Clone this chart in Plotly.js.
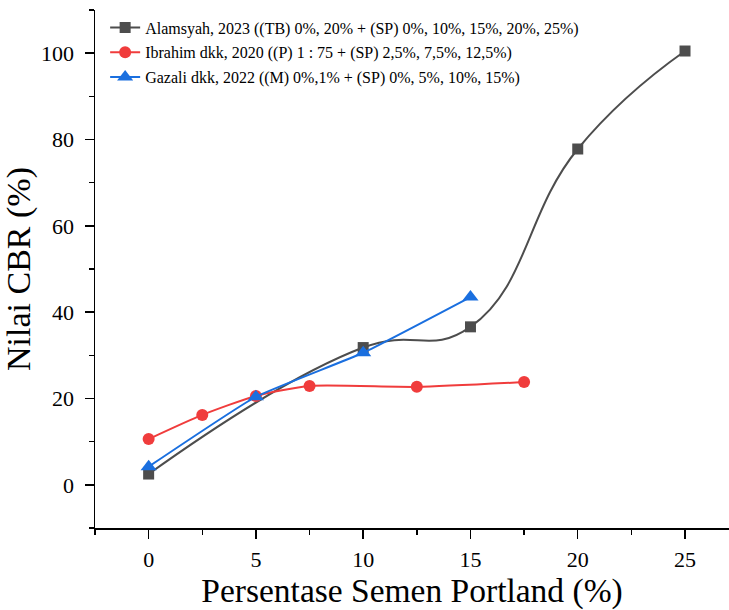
<!DOCTYPE html>
<html>
<head>
<meta charset="utf-8">
<script src="https://cdn.plot.ly/plotly-3.0.1.min.js"></script>
<style>html,body{margin:0;padding:0;background:#fff;}#chart{width:729px;height:610px;}</style>
</head>
<body>
<div id="chart"></div>
<script>
// Data
const alamsyahX = [0, 10, 15, 20, 25];
const alamsyahY = [2.5, 31.8, 36.6, 77.8, 100.5];
const ibrahimX = [0, 2.5, 5, 7.5, 12.5, 17.5];
const ibrahimY = [10.6, 16.2, 20.6, 22.9, 22.7, 23.8];
const gazaliX = [0, 5, 10, 15];
const gazaliY = [4.2, 20.4, 30.6, 43.5];
const seriesNames = [
  "Alamsyah, 2023 ((TB) 0%, 20% + (SP) 0%, 10%, 15%, 20%, 25%)",
  "Ibrahim dkk, 2020 ((P) 1 : 75 + (SP) 2,5%, 7,5%, 12,5%)",
  "Gazali dkk, 2022 ((M) 0%,1% + (SP) 0%, 5%, 10%, 15%)"
];
const xTickVals = [0, 5, 10, 15, 20, 25];
const yTickVals = [0, 20, 40, 60, 80, 100];

const font = "Liberation Serif";
const traces = [
  {x: alamsyahX, y: alamsyahY, name: seriesNames[0], legendgroup: "a", mode: "lines+markers",
   line: {color: "#4d4d4d", width: 2, shape: "spline", smoothing: 1.3},
   marker: {symbol: "square", size: 11, color: "#4d4d4d"}},
  {x: ibrahimX, y: ibrahimY, name: seriesNames[1], legendgroup: "b", mode: "lines+markers",
   line: {color: "#f03c3c", width: 2, shape: "spline", smoothing: 0.6},
   marker: {symbol: "circle", size: 12, color: "#f03c3c"}},
  {x: gazaliX, y: gazaliY, name: seriesNames[2], legendgroup: "c", mode: "lines+markers",
   line: {color: "#1a6fdf", width: 2, shape: "spline", smoothing: 0.4},
   marker: {symbol: "triangle-up", size: 14, color: "#1a6fdf"}}
];

const layout = {
  width: 729, height: 610,
  margin: {l: 95, r: 0, t: 10, b: 82},
  paper_bgcolor: "#fff", plot_bgcolor: "#fff",
  font: {family: font, size: 22, color: "#000"},
  showlegend: true,
  legend: {x: 0.016, y: 0.999, xanchor: "left", yanchor: "top", traceorder: "grouped",
           bgcolor: "rgba(0,0,0,0)", font: {family: font, size: 16, color: "#000"},
           tracegroupgap: 1, itemwidth: 30},
  xaxis: {
    range: [-2.5, 27.05], tickvals: xTickVals, ticktext: xTickVals.map(String),
    showgrid: false, zeroline: false, showline: true, linecolor: "#000", linewidth: 1.5,
    ticks: "outside", ticklen: 9, tickwidth: 1.5, tickcolor: "#000", ticklabelstandoff: 2,
    minor: {dtick: 2.5, tick0: 0, ticks: "outside", ticklen: 5, tickwidth: 1.5, tickcolor: "#000"},
    tickfont: {family: font, size: 22, color: "#000"},
    title: {text: "Persentase Semen Portland (%)", font: {family: font, size: 33.5, color: "#000"}, standoff: 4}
  },
  yaxis: {
    range: [-10, 110], tickvals: yTickVals, ticktext: yTickVals.map(String),
    showgrid: false, zeroline: false, showline: true, linecolor: "#000", linewidth: 1.5,
    ticks: "outside", ticklen: 9, tickwidth: 1.5, tickcolor: "#000", ticklabelstandoff: 6,
    minor: {dtick: 10, tick0: 0, ticks: "outside", ticklen: 5, tickwidth: 1.5, tickcolor: "#000"},
    tickfont: {family: font, size: 22, color: "#000"},
    title: {text: "Nilai CBR (%)", font: {family: font, size: 34, color: "#000"}, standoff: 6}
  }
};

Plotly.newPlot("chart", traces, layout, {displayModeBar: false, staticPlot: true});
</script>
</body>
</html>
